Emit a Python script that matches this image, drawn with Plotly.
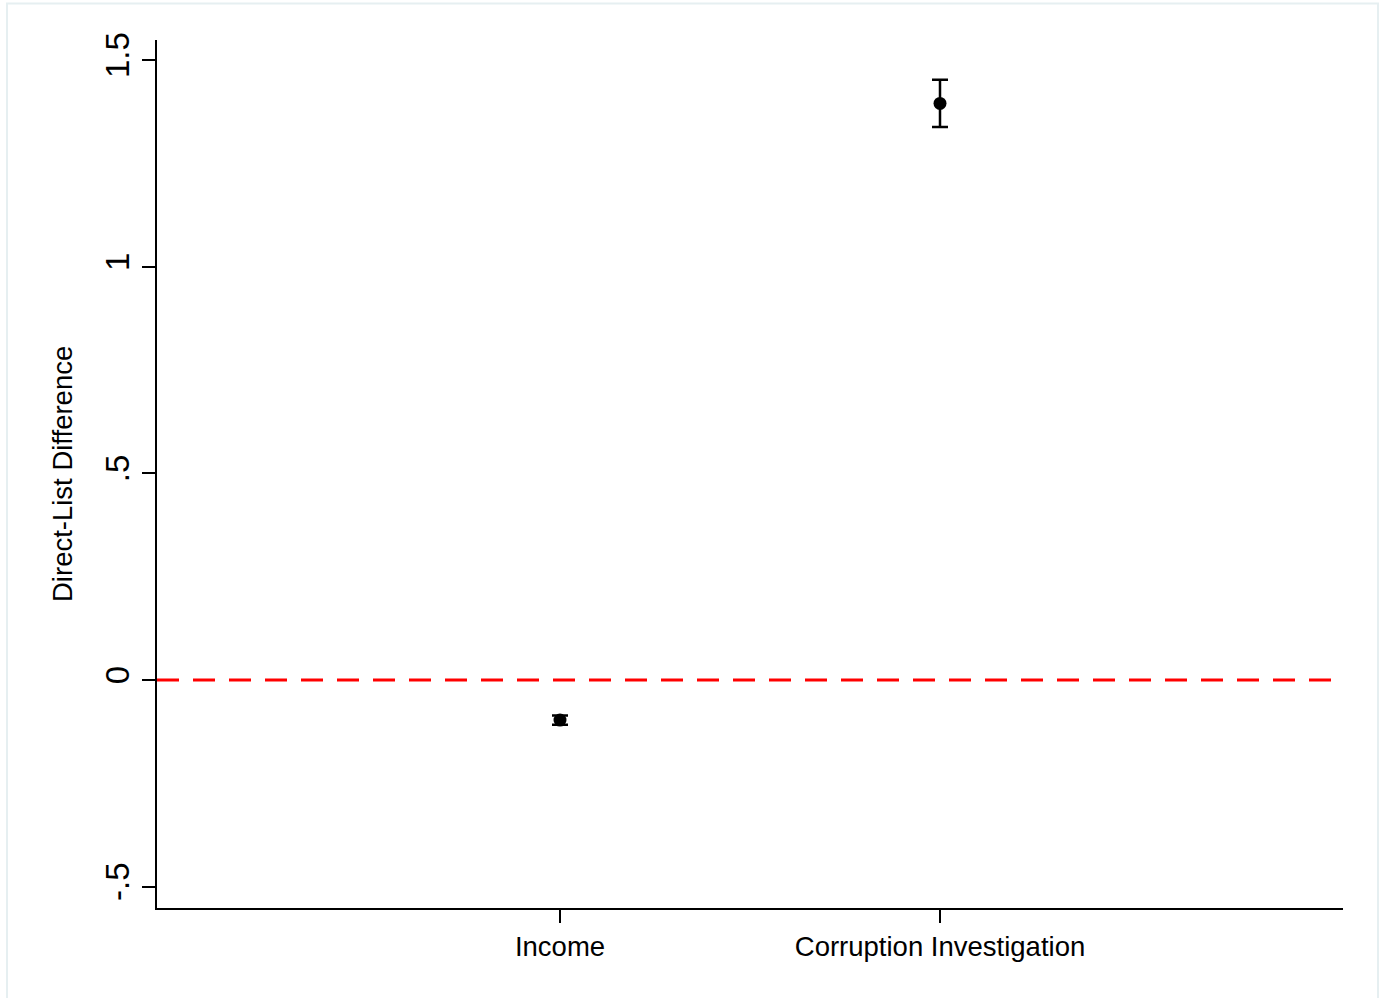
import plotly.graph_objects as go

# Estimated direct-minus-list differences with confidence intervals
categories = ["Income", "Corruption Investigation"]
positions = [1, 2]
estimates = [-0.097, 1.395]
ci_half = [0.011, 0.057]

y_tickvals = [-0.5, 0, 0.5, 1, 1.5]
y_ticktext = ["-.5", "0", ".5", "1", "1.5"]

FONT = "Arial, Liberation Sans, Helvetica, sans-serif"

fig = go.Figure()

fig.add_trace(go.Scatter(
    x=positions,
    y=estimates,
    mode="markers",
    marker=dict(color="black", size=13),
    error_y=dict(type="data", array=ci_half, visible=True,
                 color="black", thickness=2.5, width=8),
    showlegend=False,
    hoverinfo="skip",
))

# Reference line at zero
fig.add_shape(type="line", xref="paper", yref="y",
              x0=0, x1=1, y0=0, y1=0,
              line=dict(color="#FF0000", width=3, dash="22px,14px"))

# Light outer frame around the graph region
fig.add_shape(type="rect", xref="paper", yref="paper",
              x0=-0.1265, x1=1.0295, y0=-0.12, y1=1.042,
              line=dict(color="#E6EFF1", width=2), layer="below")

fig.add_annotation(
    text="Direct-List Difference", xref="paper", yref="paper",
    x=-0.0801, y=0.5, textangle=-90, showarrow=False,
    xanchor="center", yanchor="middle",
    font=dict(family=FONT, size=27.5, color="black"),
)

fig.update_layout(
    width=1384, height=998,
    margin=dict(l=157, r=41, t=40, b=90),
    paper_bgcolor="white", plot_bgcolor="white",
    font=dict(family=FONT, color="black"),
)

fig.update_xaxes(
    range=[-0.0605, 3.0605],
    tickvals=positions, ticktext=categories,
    tickfont=dict(size=27.5),
    showgrid=False, zeroline=False,
    showline=True, linecolor="black", linewidth=2,
    ticks="outside", ticklen=13, tickwidth=2, tickcolor="black",
)

fig.update_yaxes(
    range=[-0.5516, 1.5484],
    tickvals=y_tickvals, ticktext=y_ticktext,
    tickangle=-90, tickfont=dict(size=33),
    showgrid=False, zeroline=False,
    showline=True, linecolor="black", linewidth=2,
    ticks="outside", ticklen=13, tickwidth=2, tickcolor="black",
)

fig.write_html("out.html")
